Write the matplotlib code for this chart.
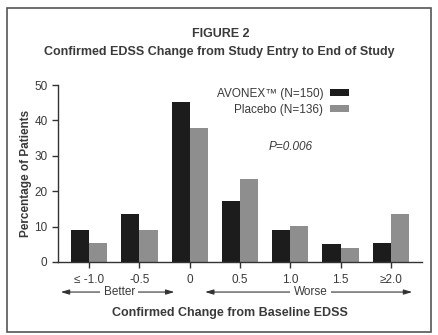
import numpy as np
import matplotlib.pyplot as plt
import matplotlib.transforms as mtrans
from matplotlib.patches import Rectangle

plt.rcParams['font.family'] = ['Liberation Sans', 'DejaVu Sans']

cats = ['\u2264 -1.0', '-0.5', '0', '0.5', '1.0', '1.5', '\u22652.0']
avonex = [9.0, 13.5, 45.3, 17.1, 9.0, 5.0, 5.4]
placebo = [5.5, 9.0, 37.8, 23.4, 10.3, 3.9, 13.6]
lab_avonex = 'AVONEX\u2122 (N=150)'
lab_placebo = 'Placebo (N=136)'

txt = '#3a3a3a'
c_dark = '#1c1c1c'
c_grey = '#8e8e8e'

fig = plt.figure(figsize=(4.38, 3.35), dpi=100)
fig.patches.append(Rectangle((7/438, 3/335), 424/438, 324/335, transform=fig.transFigure,
                             fill=False, edgecolor='#555555', lw=1.2))

ax = fig.add_axes([0.1324, 0.218, 0.8311, 0.528])
x = np.arange(len(cats))
w = 0.36
ax.bar(x - w/2, avonex, w, color=c_dark, label=lab_avonex)
ax.bar(x + w/2, placebo, w, color=c_grey, label=lab_placebo)

ax.set_xlim(-0.62, len(cats) - 0.38)
ax.set_ylim(0, 50)
ax.set_yticks(range(0, 51, 10))
ax.set_xticks(x)
ax.set_xticklabels(cats)
for s in ['top', 'right']:
    ax.spines[s].set_visible(False)
for s in ['left', 'bottom']:
    ax.spines[s].set_color('#333333')
    ax.spines[s].set_linewidth(1.0)
ax.tick_params(axis='both', colors='#333333', labelcolor=txt, labelsize=8.5, length=4, width=1)
ax.tick_params(axis='x', pad=5)
ax.set_ylabel('Percentage of Patients', fontsize=8.5, fontweight='bold', color=txt, labelpad=2)

# legend (text left of patch)
leg = ax.legend(loc='upper right', bbox_to_anchor=(0.80, 0.985), frameon=False, fontsize=8.5,
                markerfirst=False, handlelength=1.6, handleheight=0.6, labelspacing=0.35,
                handletextpad=0.6, borderaxespad=0, borderpad=0, labelcolor=txt)

ax.text(4.0, 32.5, 'P=0.006', ha='center', va='center', fontsize=8.5, style='italic', color=txt)

# Better / Worse arrows
tr = mtrans.blended_transform_factory(ax.transData, ax.transAxes)
ya = -0.17
for x0, x1, xt, lab in [(-0.62, 1.75, 0.6, 'Better'), (2.25, 6.48, 4.4, 'Worse')]:
    ax.annotate('', xy=(x1, ya), xytext=(x0, ya), xycoords=tr, textcoords=tr,
                arrowprops=dict(arrowstyle='<|-|>,head_length=0.5,head_width=0.15',
                                color='#333333', lw=0.8), annotation_clip=False)
    ax.text(xt, ya, lab, transform=tr, ha='center', va='center', fontsize=8.5, color=txt,
            bbox=dict(facecolor='white', edgecolor='none', pad=2.5), clip_on=False)

fig.text(0.525, 1 - 313/335, 'Confirmed Change from Baseline EDSS', ha='center', va='center',
         fontsize=9, fontweight='bold', color=txt)
fig.text(0.503, 1 - 34/335, 'FIGURE 2', ha='center', va='center', fontsize=9,
         fontweight='bold', color=txt)
fig.text(0.5, 1 - 52/335, 'Confirmed EDSS Change from Study Entry to End of Study',
         ha='center', va='center', fontsize=9, fontweight='bold', color=txt)

fig.savefig('out.png', dpi=100)
